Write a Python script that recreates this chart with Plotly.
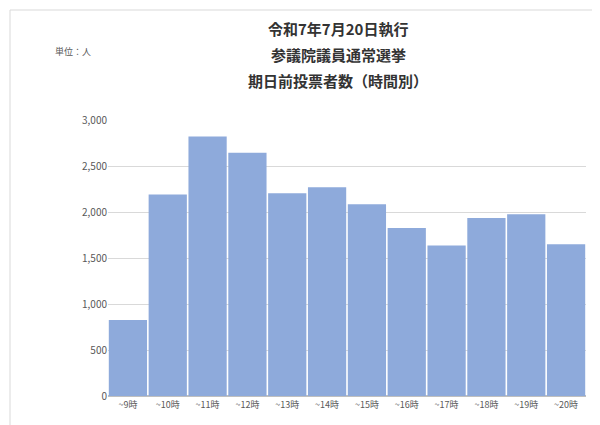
import plotly.graph_objects as go

categories = ["~9時","~10時","~11時","~12時","~13時","~14時","~15時","~16時","~17時","~18時","~19時","~20時"]
values = [825, 2190, 2820, 2645, 2205, 2270, 2085, 1825, 1635, 1935, 1975, 1650]
yticks = [0, 500, 1000, 1500, 2000, 2500, 3000]
yticklabels = ["0", "500", "1,000", "1,500", "2,000", "2,500", "3,000"]
title_lines = ["令和7年7月20日執行", "参議院議員通常選挙", "期日前投票者数（時間別）"]

font = "Noto Sans CJK JP"
L, R, T, B = 100, 22, 112, 37
pw, ph = 600 - L - R, 425 - T - B
def px(x): return (x - L) / pw
def py(y): return (425 - y - B) / ph

fig = go.Figure(go.Bar(x=categories, y=values, marker_color="#8eaadb", marker_line_width=0))
ann = [dict(text=t, xref="paper", yref="paper", x=px(330), y=py(20 + 26 * i),
            xanchor="center", yanchor="middle", showarrow=False,
            font=dict(family=font, size=15, color="#333333", weight="bold"))
       for i, t in enumerate(title_lines)]
ann.append(dict(text="単位：人", xref="paper", yref="paper", x=px(45), y=py(43),
                xanchor="left", yanchor="middle", showarrow=False,
                font=dict(family=font, size=9, color="#595959")))
fig.update_layout(
    width=600, height=425, margin=dict(l=L, r=R, t=T, b=B),
    paper_bgcolor="white", plot_bgcolor="white", bargap=0.04,
    font=dict(family=font, color="#595959", size=10),
    showlegend=False,
    shapes=[dict(type="rect", xref="paper", yref="paper", x0=px(2), y0=py(422), x1=px(597), y1=py(2),
                 line=dict(color="#d9d9d9", width=1))],
    annotations=ann,
)
fig.update_yaxes(range=[0, 3000], tickvals=yticks, ticktext=yticklabels,
                 gridcolor="#d9d9d9", zeroline=True, zerolinecolor="#bfbfbf", ticks="", ticklen=6, tickcolor="white")
fig.update_xaxes(tickfont=dict(size=9), showline=True, linecolor="#bfbfbf")
fig.write_html("out.html")
